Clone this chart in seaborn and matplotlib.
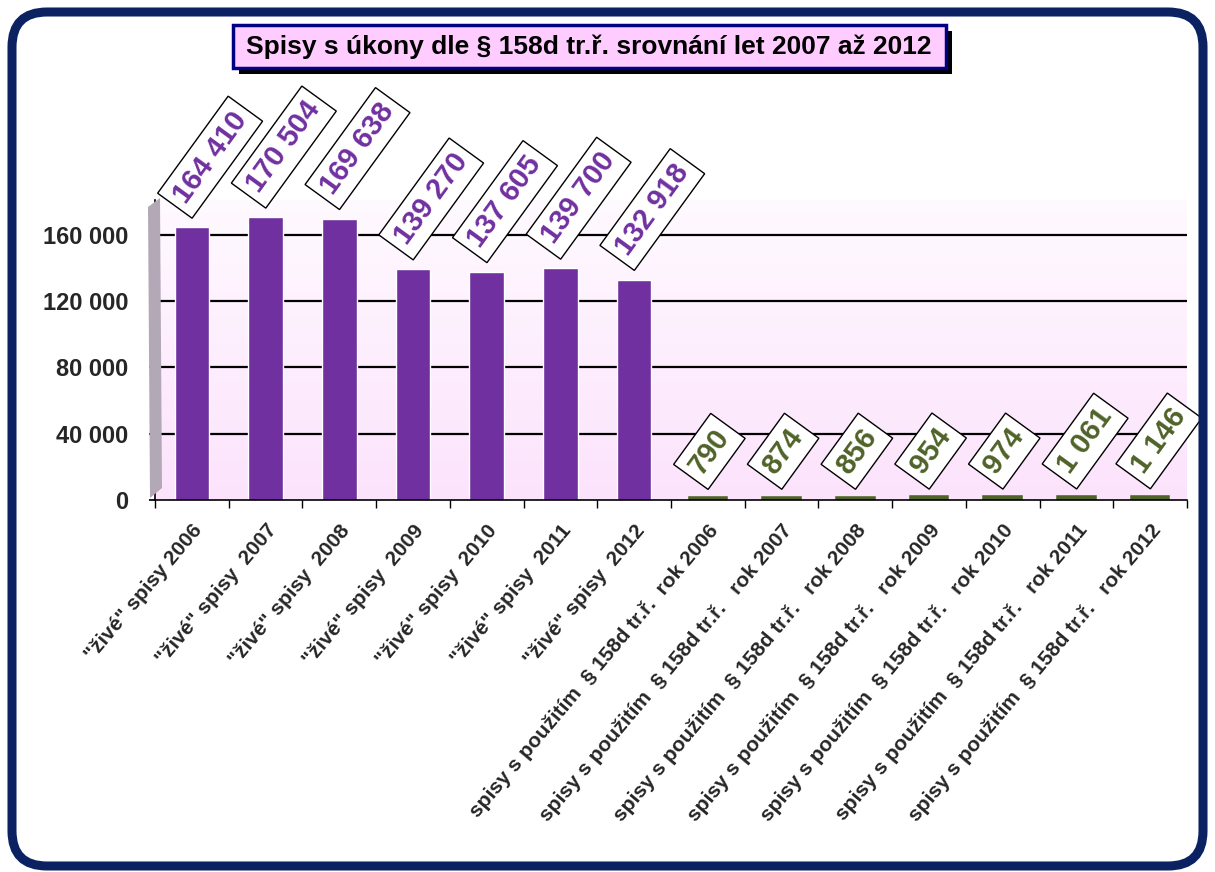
import numpy as np
import pandas as pd
import matplotlib.pyplot as plt
import seaborn as sns
from matplotlib.patches import FancyBboxPatch, Rectangle, Polygon
from matplotlib.colors import LinearSegmentedColormap
from matplotlib.ticker import FuncFormatter

categories = ['"živé" spisy 2006', '"živé" spisy  2007', '"živé" spisy  2008',
              '"živé" spisy  2009', '"živé" spisy  2010', '"živé" spisy  2011',
              '"živé" spisy  2012',
              'spisy s použitím  § 158d tr.ř.  rok 2006',
              'spisy s použitím  § 158d tr.ř.   rok 2007',
              'spisy s použitím  § 158d tr.ř.   rok 2008',
              'spisy s použitím  § 158d tr.ř.   rok 2009',
              'spisy s použitím  § 158d tr.ř.   rok 2010',
              'spisy s použitím  § 158d tr.ř.   rok 2011',
              'spisy s použitím  § 158d tr.ř.   rok 2012']
values = [164410, 170504, 169638, 139270, 137605, 139700, 132918,
          790, 874, 856, 954, 974, 1061, 1146]
groups = ['zive'] * 7 + ['158d'] * 7
y_ticks = [0, 40000, 80000, 120000, 160000]
title = 'Spisy s úkony dle § 158d tr.ř. srovnání let 2007 až 2012'

purple = '#7030a0'
green = '#4f6228'
navy = '#0b2262'

sns.set_theme(style='white')
plt.rcParams['font.family'] = ['Liberation Sans', 'DejaVu Sans']


def fmt(v, pos=None):
    return f'{int(v):,}'.replace(',', ' ')


df = pd.DataFrame({'kategorie': categories, 'pocet': values, 'skupina': groups})

fig = plt.figure(figsize=(12.15, 8.72), dpi=100)
ax = fig.add_axes([155 / 1215, 1 - 500 / 872, (1187 - 155) / 1215, 300 / 872])

# pink gradient back wall
pink = LinearSegmentedColormap.from_list('wall', ['#fce3fc', '#fffaff'])
grad = np.linspace(0, 1, 256).reshape(-1, 1)
ax.imshow(grad, extent=(-0.5, 13.5, 0, 181000), aspect='auto', cmap=pink,
          origin='lower', zorder=0)

for v in y_ticks[1:]:
    ax.axhline(v, color='black', lw=1.6, zorder=0.5)

sns.barplot(data=df, x='kategorie', y='pocet', hue='skupina',
            palette={'zive': purple, '158d': green}, dodge=False, width=0.47,
            saturation=1, legend=False, ax=ax, zorder=2)

# tiny bars: give them a visible edge
for p in ax.patches:
    if p.get_height() < 5000:
        p.set_edgecolor(green)
        p.set_linewidth(4)

ax.set_xlim(-0.5, 13.5)
ax.set_ylim(0, 181000)
ax.set_xlabel('')
ax.set_ylabel('')

ax.set_yticks(y_ticks)
ax.yaxis.set_major_formatter(FuncFormatter(fmt))
ax.tick_params(axis='y', length=4, pad=15, labelsize=17, color='black', left=True)
for t in ax.get_yticklabels():
    t.set_fontweight('bold')

ax.set_xticks(range(len(categories)))
ax.set_xticklabels(categories, rotation=50, ha='right', rotation_mode='anchor',
                   fontsize=15, fontweight='bold')
ax.set_xticks(np.arange(-0.5, len(categories), 1), minor=True)
ax.tick_params(axis='x', which='major', length=0, pad=15)
ax.tick_params(axis='x', which='minor', length=6, color='black', bottom=True)

for s in ['top', 'right']:
    ax.spines[s].set_visible(False)
for s in ['left', 'bottom']:
    ax.spines[s].set_color('black')
    ax.spines[s].set_linewidth(1.2)

for i, v in enumerate(values):
    c = purple if groups[i] == 'zive' else green
    ax.annotate(fmt(v), xy=(i, v), xytext=(-1, 14), textcoords='offset points',
                rotation=54, rotation_mode='anchor', ha='left', va='bottom',
                fontsize=21, fontweight='bold', color=c, annotation_clip=False,
                bbox=dict(boxstyle='square,pad=0.25', fc='white', ec='black', lw=1))

# overlay in pixel coordinates for frame and title box
ov = fig.add_axes([0, 0, 1, 1])
ov.set_xlim(0, 1215)
ov.set_ylim(872, 0)
ov.axis('off')
ov.patch.set_alpha(0)

ov.add_patch(Polygon([(148, 207), (160, 198), (162, 488), (150, 498)],
                     closed=True, fc='#b3a9b6', ec='none'))
ov.add_patch(FancyBboxPatch((12, 12), 1191, 854, boxstyle='round,pad=0,rounding_size=35',
                            fc='none', ec=navy, lw=6.5))
ov.add_patch(Rectangle((239, 31), 713, 43, fc='black', ec='none'))
ov.add_patch(Rectangle((233, 25), 713, 43, fc='#ffccff', ec='#000080', lw=2.5))
ov.text(589, 47, title, ha='center', va='center', fontsize=19, fontweight='bold',
        color='black')

fig.savefig('out.png', dpi=100)
